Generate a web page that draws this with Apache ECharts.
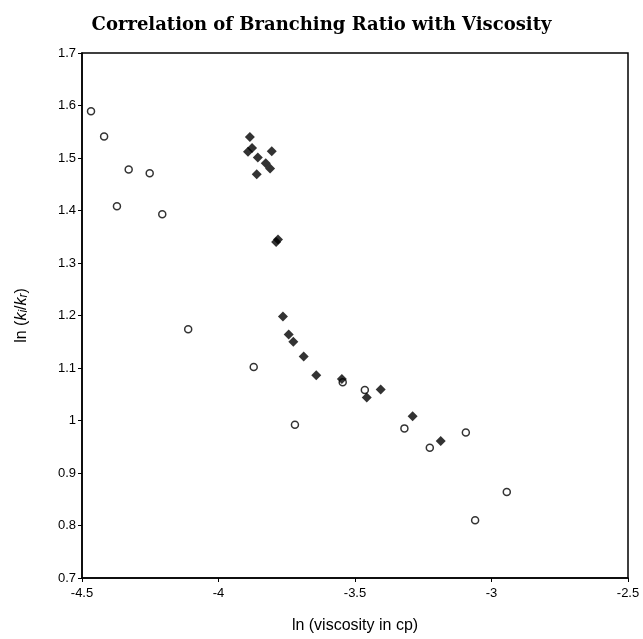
<!DOCTYPE html>
<html>
<head>
<meta charset="utf-8">
<script src="https://cdn.jsdelivr.net/npm/echarts@6/dist/echarts.min.js"></script>
<style>
  html, body { margin: 0; padding: 0; background: #fff; }
  #chart { width: 643px; height: 639px; }
</style>
</head>
<body>
<div id="chart"></div>
<script>
// open circles: [ln viscosity, ln(ki/kr)]
const openX = [-4.467, -4.419, -4.329, -4.252, -4.372, -4.206, -4.111, -3.871, -3.720, -3.545, -3.464, -3.319, -3.226, -3.094, -2.944, -3.060];
const openY = [1.589, 1.541, 1.478, 1.471, 1.408, 1.393, 1.174, 1.102, 0.992, 1.073, 1.058, 0.985, 0.948, 0.977, 0.864, 0.810];

// filled diamonds
const fillX = [-3.885, -3.892, -3.877, -3.856, -3.805, -3.827, -3.811, -3.860, -3.789, -3.782, -3.764, -3.743, -3.726, -3.688, -3.642, -3.548, -3.457, -3.406, -3.289, -3.186];
const fillY = [1.540, 1.512, 1.519, 1.501, 1.513, 1.490, 1.480, 1.469, 1.340, 1.345, 1.198, 1.164, 1.150, 1.122, 1.086, 1.079, 1.044, 1.059, 1.008, 0.961];

const xTicks = [-4.5, -4, -3.5, -3, -2.5];

function pairs(xs, ys) {
    return xs.map((x, i) => [x, ys[i]]);
}

const chart = echarts.init(document.getElementById('chart'));
const sans = 'Liberation Sans, Arial, sans-serif';

chart.setOption({
    animation: false,
    title: {
        text: 'Correlation of Branching Ratio with Viscosity',
        left: 'center',
        top: 11,
        textStyle: {
            fontFamily: 'DejaVu Serif, serif',
            fontWeight: 'bold',
            fontSize: 18,
            color: '#000'
        }
    },
    grid: {
        left: 82, top: 53, right: 15, bottom: 58,
        show: true, borderColor: '#000', borderWidth: 1.5
    },
    xAxis: {
        type: 'value',
        min: -4.5, max: -2.5, interval: 0.5,
        name: 'ln (viscosity in cp)',
        nameLocation: 'middle',
        nameGap: 40,
        nameTextStyle: { fontFamily: sans, fontSize: 16, color: '#000' },
        axisLine: { lineStyle: { color: '#000', width: 1.5 } },
        axisTick: { length: 4, lineStyle: { color: '#000' } },
        axisLabel: {
            fontFamily: sans, fontSize: 13, color: '#000', margin: 9,
            formatter: v => xTicks.includes(v) ? String(v) : ''
        },
        splitLine: { show: false }
    },
    yAxis: {
        type: 'value',
        min: 0.7, max: 1.7, interval: 0.1,
        name: '{a|ln (}{k|k}{s|i}{a|/}{k|k}{s|r}{a|)}',
        nameLocation: 'middle',
        nameGap: 52,
        nameTextStyle: {
            fontFamily: sans, fontSize: 16, color: '#000',
            rich: {
                a: { fontFamily: sans, fontSize: 16, color: '#000' },
                k: { fontFamily: sans, fontSize: 16, fontStyle: 'italic', color: '#000' },
                s: { fontFamily: sans, fontSize: 12, fontStyle: 'italic', color: '#000', padding: [5, 0, 0, 0] }
            }
        },
        axisLine: { lineStyle: { color: '#000', width: 1.5 } },
        axisTick: { length: 4, lineStyle: { color: '#000' } },
        axisLabel: {
            fontFamily: sans, fontSize: 13, color: '#000', margin: 6,
            formatter: v => String(Math.round(v * 10) / 10)
        },
        splitLine: { show: false }
    },
    series: [
        {
            type: 'scatter',
            data: pairs(openX, openY),
            symbol: 'circle',
            symbolSize: 7,
            itemStyle: { color: '#fff', borderColor: '#000', borderWidth: 1.5 }
        },
        {
            type: 'scatter',
            data: pairs(fillX, fillY),
            symbol: 'diamond',
            symbolSize: 10,
            itemStyle: { color: '#000' }
        }
    ]
});
</script>
</body>
</html>
